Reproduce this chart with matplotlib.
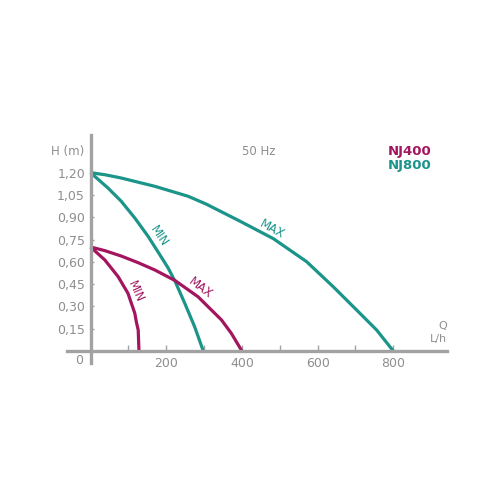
import matplotlib
matplotlib.use("Agg")
import matplotlib.pyplot as plt

# ---- data ----
nj800_max_q = [0, 38, 81, 170, 258, 306, 396, 483, 571, 641, 703, 756, 800]
nj800_max_h = [1.20, 1.186, 1.164, 1.108, 1.041, 0.988, 0.872, 0.756, 0.601, 0.433, 0.276, 0.141, 0.0]

nj800_min_q = [0, 46, 81, 117, 152, 183, 205, 224, 249, 275, 298]
nj800_min_h = [1.20, 1.097, 1.008, 0.895, 0.772, 0.648, 0.559, 0.466, 0.321, 0.164, 0.0]

nj400_max_q = [0, 38, 81, 126, 170, 224, 284, 346, 372, 400]
nj400_max_h = [0.70, 0.675, 0.639, 0.594, 0.545, 0.473, 0.365, 0.209, 0.119, 0.0]

nj400_min_q = [0, 38, 73, 99, 117, 121, 126, 127, 128]
nj400_min_h = [0.70, 0.612, 0.500, 0.388, 0.254, 0.197, 0.141, 0.074, 0.0]

x_ticks = [100, 200, 300, 400, 500, 600, 700, 800]
x_tick_labels = ["", "200", "", "400", "", "600", "", "800"]
y_ticks = [0.15, 0.30, 0.45, 0.60, 0.75, 0.90, 1.05, 1.20]
y_tick_labels = ["0,15", "0,30", "0,45", "0,60", "0,75", "0,90", "1,05", "1,20"]

MAGENTA = "#a3165f"
TEAL = "#1b9489"
GREY = "#8e8e8e"
AXGREY = "#a2a2a2"

plt.rcParams['font.family'] = ['DejaVu Sans']

fig = plt.figure(figsize=(5, 5), dpi=100)
ax = fig.add_axes([0.12, 0.26, 0.78, 0.48])
ax.set_xlim(-80.6, 949.8)
ax.set_ylim(-0.128, 1.487)

lw = 2.3
plot_kw = dict(lw=lw, solid_capstyle='butt', solid_joinstyle='round')
ax.plot(nj800_max_q, nj800_max_h, color=TEAL, zorder=3, **plot_kw)
ax.plot(nj800_min_q, nj800_min_h, color=TEAL, zorder=3, **plot_kw)
ax.plot(nj400_max_q, nj400_max_h, color=MAGENTA, zorder=4, **plot_kw)
ax.plot(nj400_min_q, nj400_min_h, color=MAGENTA, zorder=4, **plot_kw)

# curve labels
lab_kw = dict(ha='center', va='center', rotation_mode='anchor', fontsize=8.5)
ax.text(180, 0.772, "MIN", color=TEAL, rotation=-56, **lab_kw)
ax.text(479, 0.819, "MAX", color=TEAL, rotation=-29, **lab_kw)
ax.text(291, 0.422, "MAX", color=MAGENTA, rotation=-37, **lab_kw)
ax.text(120, 0.399, "MIN", color=MAGENTA, rotation=-66, **lab_kw)

# axes
for s in ['top', 'right']:
    ax.spines[s].set_visible(False)
ax.spines['left'].set_position(('data', 0))
ax.spines['bottom'].set_position(('data', 0))
ax.spines['left'].set_bounds(-0.08, 1.45)
ax.spines['bottom'].set_bounds(-63, 941)
for s in ['left', 'bottom']:
    ax.spines[s].set_color(AXGREY)
    ax.spines[s].set_linewidth(2.4)
    ax.spines[s].set_zorder(5)

ax.set_xticks(x_ticks)
ax.set_xticklabels(x_tick_labels)
ax.set_yticks(y_ticks)
ax.set_yticklabels(y_tick_labels)
ax.tick_params(axis='x', direction='in', length=4, width=1, color=AXGREY,
               labelcolor=GREY, labelsize=9, pad=4)
ax.tick_params(axis='y', direction='in', length=2.5, width=1, color=AXGREY,
               labelcolor=GREY, labelsize=9, pad=4)

ax.text(-29.6, -0.062, "0", color=GREY, fontsize=9, ha='center', va='center')
ax.text(-60, 1.34, "H (m)", color=GREY, fontsize=8.5, ha='center', va='center')
ax.text(445, 1.34, "50 Hz", color=GREY, fontsize=8.5, ha='center', va='center')
ax.text(842, 1.345, "NJ400", color=MAGENTA, fontsize=9.5, fontweight='bold', ha='center', va='center')
ax.text(842, 1.249, "NJ800", color=TEAL, fontsize=9.5, fontweight='bold', ha='center', va='center')
ax.text(941, 0.17, "Q", color=GREY, fontsize=8, ha='right', va='center')
ax.text(941, 0.08, "L/h", color=GREY, fontsize=8, ha='right', va='center')

fig.savefig("out.png", dpi=100)
